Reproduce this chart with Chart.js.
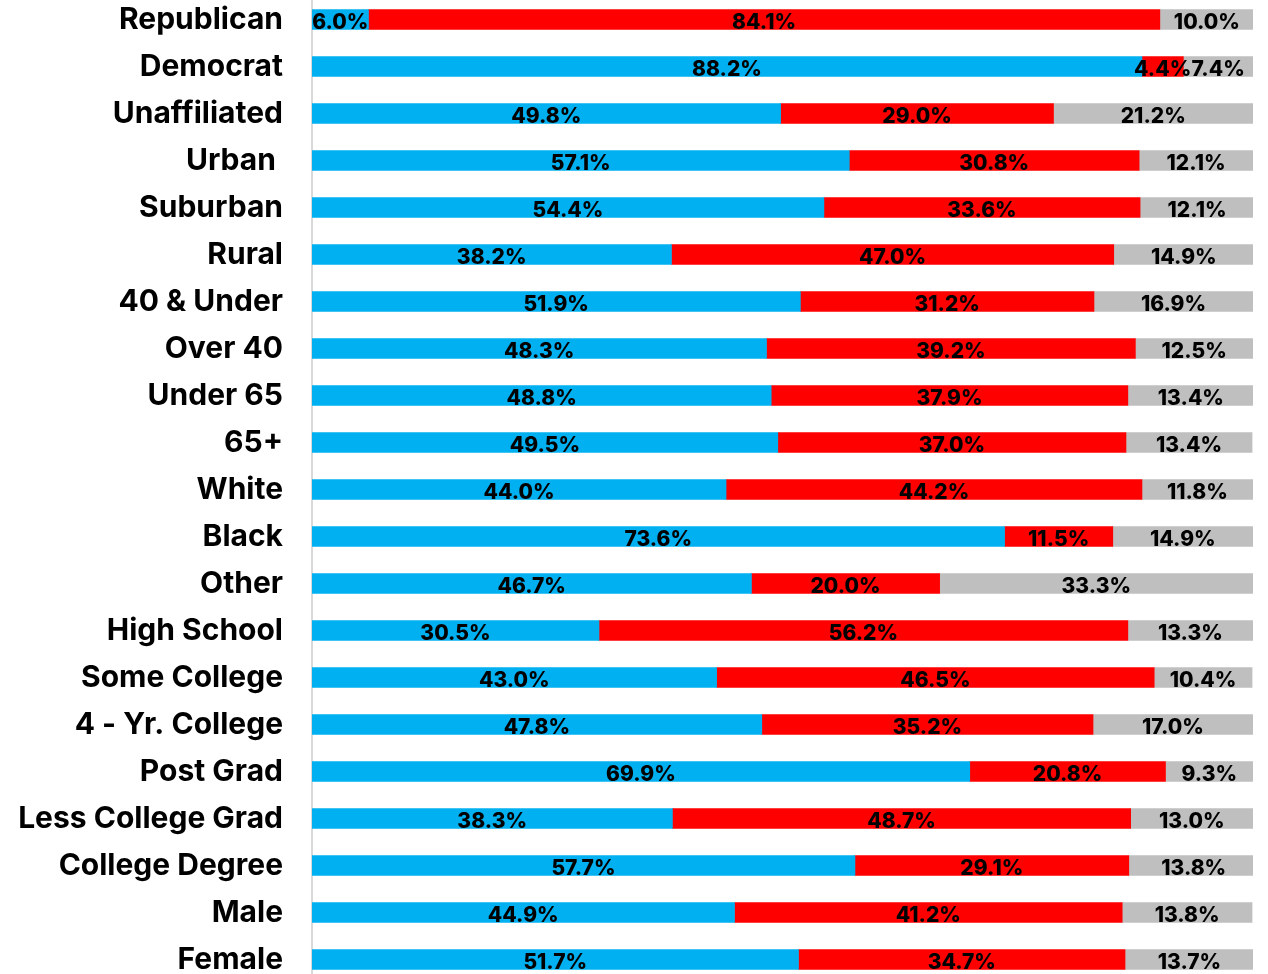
<!DOCTYPE html>
<html>
<head>
<meta charset="utf-8">
<script src="https://cdn.jsdelivr.net/npm/chart.js@4"></script>
<style>
  body { margin: 0; background: #fff; }
  #frame { position: relative; width: 1268px; height: 974px; overflow: hidden; }
  #wrap { position: absolute; left: 0; top: -4px; width: 1268px; height: 987px; }
</style>
</head>
<body>
<div id="frame"><div id="wrap"><canvas id="chart"></canvas></div></div>
<script>
// categories, top to bottom
const groups = [
  'Republican', 'Democrat', 'Unaffiliated', 'Urban ', 'Suburban', 'Rural',
  '40 & Under', 'Over 40', 'Under 65', '65+', 'White', 'Black', 'Other',
  'High School', 'Some College', '4 - Yr. College', 'Post Grad',
  'Less College Grad', 'College Degree', 'Male', 'Female'
];

// series (percent)
const blueVals = [6.0, 88.2, 49.8, 57.1, 54.4, 38.2, 51.9, 48.3, 48.8, 49.5, 44.0, 73.6, 46.7, 30.5, 43.0, 47.8, 69.9, 38.3, 57.7, 44.9, 51.7];
const redVals  = [84.1, 4.4, 29.0, 30.8, 33.6, 47.0, 31.2, 39.2, 37.9, 37.0, 44.2, 11.5, 20.0, 56.2, 46.5, 35.2, 20.8, 48.7, 29.1, 41.2, 34.7];
const grayVals = [10.0, 7.4, 21.2, 12.1, 12.1, 14.9, 16.9, 12.5, 13.4, 13.4, 11.8, 14.9, 33.3, 13.3, 10.4, 17.0, 9.3, 13.0, 13.8, 13.8, 13.7];

// draw the % labels in the middle of each segment
const segLabels = {
  id: 'segLabels',
  afterDatasetsDraw(chart) {
    const ctx = chart.ctx;
    ctx.save();
    ctx.font = '800 21px Inter';
    ctx.fillStyle = '#000';
    ctx.textAlign = 'center';
    ctx.textBaseline = 'middle';
    chart.data.datasets.forEach((ds, i) => {
      chart.getDatasetMeta(i).data.forEach((bar, j) => {
        const cx = (bar.x + bar.base) / 2;
        ctx.fillText(ds.data[j].toFixed(1) + '%', cx, bar.y + 3);
      });
    });
    ctx.restore();
  }
};

new Chart(document.getElementById('chart'), {
  type: 'bar',
  data: {
    labels: groups,
    datasets: [
      { data: blueVals, backgroundColor: '#00B0F0' },
      { data: redVals, backgroundColor: '#FF0000' },
      { data: grayVals, backgroundColor: '#BFBFBF' }
    ]
  },
  options: {
    indexAxis: 'y',
    responsive: true,
    maintainAspectRatio: false,
    animation: false,
    barThickness: 20,
    layout: { padding: { left: 0, right: 15, top: 0, bottom: 0 } },
    plugins: { legend: { display: false }, tooltip: { enabled: false } },
    scales: {
      x: { stacked: true, min: 0, max: 100, display: false },
      y: {
        stacked: true,
        grid: { display: false, drawTicks: false },
        border: { display: true, color: '#D9D9D9', width: 2 },
        ticks: {
          padding: 29,
          color: '#000',
          font: { family: 'Inter', weight: 'bold', size: 30 }
        },
        afterFit(scale) {
          scale.width = 312;
          scale.paddingTop = 0;
          scale.paddingBottom = 0;
        }
      }
    }
  },
  plugins: [segLabels]
});
</script>
</body>
</html>
